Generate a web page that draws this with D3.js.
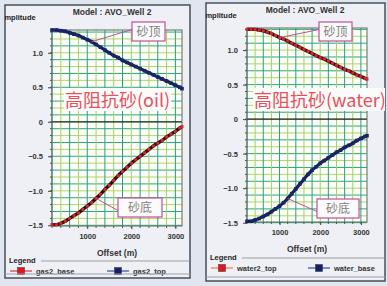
<!DOCTYPE html>
<html>
<head>
<meta charset="utf-8">
<script src="https://cdn.jsdelivr.net/npm/d3@7"></script>
<style>
  body { margin: 0; background: #dfe6ef; }
  svg { display: block; }
</style>
</head>
<body>
<div id="chart"></div>
<script>
const W = 387, H = 286;

const offsets = [200, 300, 400, 500, 600, 700, 800, 900, 1000, 1100, 1200, 1300, 1400, 1500, 1600,
                 1700, 1800, 1900, 2000, 2100, 2200, 2300, 2400, 2500, 2600, 2700, 2800, 2900, 3000, 3100, 3150];

// left panel (oil)
const gas2Top  = [1.33, 1.33, 1.32, 1.31, 1.29, 1.27, 1.25, 1.22, 1.19, 1.16, 1.12, 1.08, 1.04, 1.00, 0.96,
                  0.93, 0.89, 0.86, 0.83, 0.80, 0.77, 0.74, 0.71, 0.68, 0.65, 0.62, 0.59, 0.56, 0.53, 0.50, 0.48];
const gas2Base = [-1.49, -1.49, -1.47, -1.44, -1.40, -1.36, -1.32, -1.27, -1.22, -1.17, -1.11, -1.05, -0.98, -0.92, -0.85,
                  -0.78, -0.72, -0.66, -0.60, -0.55, -0.50, -0.45, -0.40, -0.35, -0.31, -0.27, -0.22, -0.18, -0.14, -0.09, -0.07];

// right panel (water)
const water2Top = [1.30, 1.30, 1.30, 1.29, 1.28, 1.26, 1.24, 1.21, 1.18, 1.16, 1.13, 1.10, 1.07, 1.04, 1.01,
                   0.98, 0.95, 0.92, 0.89, 0.87, 0.84, 0.81, 0.78, 0.75, 0.72, 0.70, 0.67, 0.64, 0.62, 0.59, 0.58];
const waterBase = [-1.48, -1.48, -1.46, -1.44, -1.41, -1.38, -1.34, -1.30, -1.26, -1.21, -1.15, -1.08, -1.01, -0.94, -0.87,
                   -0.80, -0.74, -0.69, -0.64, -0.60, -0.56, -0.52, -0.48, -0.45, -0.41, -0.38, -0.35, -0.31, -0.28, -0.25, -0.24];

const yTicks = [1.0, 0.5, 0, -0.5, -1.0, -1.5];
const xTicks = [1000, 2000, 3000];

const panels = [
  {
    box: [5, 5, 185, 273], plot: [52, 30, 182, 226], yDom: [-1.51, 1.33],
    title: "Model : AVO_Well 2", titleX: 112, bigText: "高阻抗砂(oil)", bigX: 65,
    series: [
      { name: "gas2_base", values: gas2Base, kind: "red" },
      { name: "gas2_top",  values: gas2Top,  kind: "navy" }
    ],
    topNote: { box: [132, 22, 33, 19], to: 1100 },
    baseNote: { box: [118, 198, 44, 19], to: 1200 },
    legendY: 263
  },
  {
    box: [206, 3, 179, 278], plot: [247, 28, 367, 222], yDom: [-1.49, 1.32],
    title: "Model : AVO_Well 2", titleX: 305, bigText: "高阻抗砂(water)", bigX: 254,
    series: [
      { name: "water2_top", values: water2Top, kind: "red" },
      { name: "water_base", values: waterBase, kind: "navy" }
    ],
    topNote: { box: [319, 22, 33, 19], to: 1000 },
    baseNote: { box: [317, 199, 42, 19], to: 1200 },
    legendY: 260
  }
];

const svg = d3.select("#chart").append("svg")
  .attr("width", W).attr("height", H);

svg.append("rect").attr("width", W).attr("height", H).attr("fill", "#dfe6ef");

const boldFont = "Liberation Sans, Arial, sans-serif";
const cjkFont = "Noto Sans CJK SC, sans-serif";

panels.forEach((p, pi) => {
  const [bx, by, bw, bh] = p.box;
  const [px0, py0, px1, py1] = p.plot;

  const g = svg.append("g");

  const clipId = "clip" + pi;
  svg.append("clipPath").attr("id", clipId)
     .append("rect").attr("x", bx).attr("y", by).attr("width", bw).attr("height", bh);

  g.append("rect")
   .attr("x", bx).attr("y", by).attr("width", bw).attr("height", bh)
   .attr("fill", "#eef0f5").attr("stroke", "#4a4f5a").attr("stroke-width", 1.5);

  const inner = g.append("g").attr("clip-path", `url(#${clipId})`);

  const x = d3.scaleLinear().domain([200, 3150]).range([px0, px1]);
  const y = d3.scaleLinear().domain(p.yDom).range([py1, py0]);

  // title
  inner.append("text")
   .attr("x", p.titleX).attr("y", by + 10)
   .attr("text-anchor", "middle")
   .style("font", `bold 8.5px ${boldFont}`).attr("fill", "#333")
   .text(p.title);

  inner.append("text")
   .attr("x", bx - 6).attr("y", py0 - 10)
   .style("font", `bold 7.5px ${boldFont}`).attr("fill", "#222")
   .text("Amplitude");

  // plot background
  inner.append("rect")
   .attr("x", px0).attr("y", py0).attr("width", px1 - px0).attr("height", py1 - py0)
   .attr("fill", "#fbfdf8");

  // grid
  const hLines = d3.range(-15, 14).map(d => d / 10);
  inner.append("g").selectAll("line").data(hLines).join("line")
   .attr("x1", px0).attr("x2", px1)
   .attr("y1", d => y(d)).attr("y2", d => y(d))
   .attr("stroke", (d, i) => i % 2 ? "#b4d468" : "#2fa877")
   .attr("stroke-width", 1);

  const vLines = d3.range(200, 3200, 200);
  inner.append("g").selectAll("line").data(vLines).join("line")
   .attr("x1", d => x(d)).attr("x2", d => x(d))
   .attr("y1", py0).attr("y2", py1)
   .attr("stroke", (d, i) => i % 2 ? "#a6cf6a" : "#2a9f78")
   .attr("stroke-width", 1);

  // zero line
  inner.append("line")
   .attr("x1", px0).attr("x2", px1).attr("y1", y(0)).attr("y2", y(0))
   .attr("stroke", "#222").attr("stroke-width", 1.2);

  // plot frame
  inner.append("rect")
   .attr("x", px0).attr("y", py0).attr("width", px1 - px0).attr("height", py1 - py0)
   .attr("fill", "none").attr("stroke", "#5a6a60").attr("stroke-width", 1);

  // y axis
  const yAxis = d3.axisLeft(y).tickValues(yTicks).tickSize(4)
    .tickFormat(d => d === 0 ? "0" : d3.format(".1f")(d));
  const ya = inner.append("g").attr("transform", `translate(${px0},0)`).call(yAxis);
  ya.select(".domain").remove();
  ya.selectAll("line").attr("stroke", "#444");
  ya.selectAll("text").style("font", `bold 7.5px ${boldFont}`).attr("fill", "#333").attr("dx", "-2");
  inner.append("g").selectAll("line").data(hLines).join("line")
   .attr("x1", px0 - 2).attr("x2", px0)
   .attr("y1", d => y(d)).attr("y2", d => y(d))
   .attr("stroke", "#555");

  // x axis
  const xAxis = d3.axisBottom(x).tickValues(xTicks).tickSize(3).tickFormat(d3.format("d"));
  const xa = inner.append("g").attr("transform", `translate(0,${py1})`).call(xAxis);
  xa.select(".domain").remove();
  xa.selectAll("line").attr("stroke", "#444");
  xa.selectAll("text").style("font", `bold 7.5px ${boldFont}`).attr("fill", "#333").attr("dy", "0.9em");
  inner.append("g").selectAll("line").data(vLines).join("line")
   .attr("x1", d => x(d)).attr("x2", d => x(d))
   .attr("y1", py1).attr("y2", py1 + 2)
   .attr("stroke", "#555");

  inner.append("text")
   .attr("x", (px0 + px1) / 2).attr("y", py1 + 30)
   .attr("text-anchor", "middle")
   .style("font", `bold 8.5px ${boldFont}`).attr("fill", "#333")
   .text("Offset (m)");

  // big label with white backing
  const bigG = inner.append("g");
  const bigBg = bigG.append("rect").attr("fill", "#fbfbfb");
  const big = bigG.append("text")
   .attr("x", p.bigX).attr("y", 107)
   .style("font", `18px ${cjkFont}`).attr("fill", "#e8505a")
   .text(p.bigText);
  const bb = big.node().getBBox();
  bigBg.attr("x", bb.x - 1).attr("y", bb.y + 2).attr("width", bb.width + 2).attr("height", bb.height - 3);

  // curves
  const line = d3.line().x((d, i) => x(offsets[i])).y(d => y(d)).curve(d3.curveMonotoneX);
  p.series.forEach(s => {
    const lg = inner.append("g");
    if (s.kind === "navy") {
      lg.append("path").datum(s.values).attr("d", line)
        .attr("fill", "none").attr("stroke", "#16205a").attr("stroke-width", 3.2);
      lg.selectAll("rect").data(s.values).join("rect")
        .attr("x", (d, i) => x(offsets[i]) - 1.8).attr("y", d => y(d) - 1.8)
        .attr("width", 3.6).attr("height", 3.6).attr("fill", "#1a2466");
    } else {
      lg.append("path").datum(s.values).attr("d", line)
        .attr("fill", "none").attr("stroke", "#2a0e14").attr("stroke-width", 3.4);
      lg.selectAll("rect").data(s.values).join("rect")
        .attr("x", (d, i) => x(offsets[i]) - 1.5).attr("y", d => y(d) - 1.5)
        .attr("width", 3).attr("height", 3).attr("fill", "#d8262a");
    }
  });

  // annotation boxes
  const topS = p.series.find(s => s.values[0] > 0);
  const baseS = p.series.find(s => s.values[0] < 0);
  [[p.topNote, topS, "砂顶"], [p.baseNote, baseS, "砂底"]].forEach(([n, s, label]) => {
    const [nx, ny, nw, nh] = n.box;
    const idx = offsets.indexOf(n.to);
    inner.append("line")
     .attr("x1", nx).attr("y1", ny + nh / 2 + (label === "砂顶" ? -2 : 3))
     .attr("x2", x(n.to)).attr("y2", y(s.values[idx]))
     .attr("stroke", "#c0509a").attr("stroke-width", 1);
    inner.append("rect")
     .attr("x", nx).attr("y", ny).attr("width", nw).attr("height", nh)
     .attr("fill", "#fbfbfb").attr("stroke", "#c0509a").attr("stroke-width", 1.2);
    inner.append("text")
     .attr("x", nx + nw / 2).attr("y", ny + nh / 2 + 4.5)
     .attr("text-anchor", "middle")
     .style("font", `12px ${cjkFont}`).attr("fill", "#808080")
     .text(label);
  });

  // legend
  const ly = p.legendY;
  inner.append("text").attr("x", bx + 4).attr("y", ly)
   .style("font", `bold 7.5px ${boldFont}`).attr("fill", "#222").text("Legend");
  inner.append("line").attr("x1", bx + 36).attr("x2", bx + bw).attr("y1", ly - 2).attr("y2", ly - 2)
   .attr("stroke", "#888").attr("stroke-width", 0.8);

  const entryX = [bx + 5, bx + 102];
  p.series.forEach((s, i) => {
    const ex = entryX[i], ey = ly + 8;
    const lineCol = s.kind === "red" ? (pi === 0 ? "#d83a3a" : "#f07a3a") : "#3050a0";
    const fillCol = s.kind === "red" ? "#e0181e" : "#16206a";
    inner.append("line").attr("x1", ex).attr("x2", ex + 22).attr("y1", ey).attr("y2", ey)
     .attr("stroke", lineCol).attr("stroke-width", 1.2);
    inner.append("rect").attr("x", ex + 7.5).attr("y", ey - 3.5).attr("width", 7).attr("height", 7)
     .attr("fill", fillCol).attr("stroke", "#333").attr("stroke-width", 0.5);
    inner.append("text").attr("x", ex + 26).attr("y", ey + 3)
     .style("font", `bold 7.5px ${boldFont}`).attr("fill", "#333").text(s.name);
  });

  // lower separator line near bottom edge
  inner.append("line").attr("x1", bx).attr("x2", bx + bw)
   .attr("y1", by + bh - 4).attr("y2", by + bh - 4)
   .attr("stroke", "#9aa0aa").attr("stroke-width", 1);
});
</script>
</body>
</html>
